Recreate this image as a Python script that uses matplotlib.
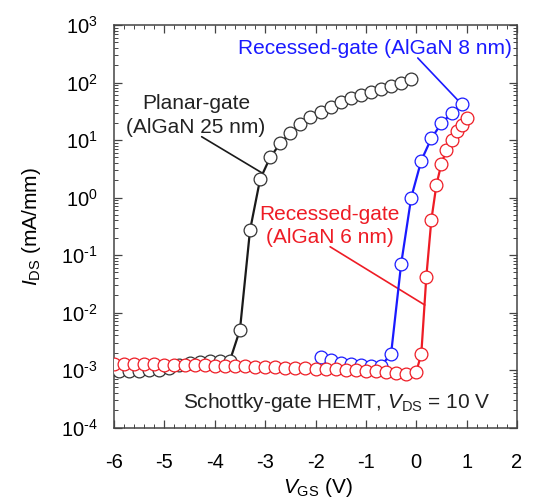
import matplotlib
matplotlib.use('Agg')
import matplotlib.pyplot as plt
from matplotlib.ticker import LogLocator, MultipleLocator, FuncFormatter
import numpy as np

plt.rcParams['font.family'] = ['Liberation Sans', 'DejaVu Sans']
plt.rcParams['mathtext.fontset'] = 'custom'
plt.rcParams['mathtext.rm'] = 'Liberation Sans'
plt.rcParams['mathtext.it'] = 'Liberation Sans:italic'
plt.rcParams['axes.unicode_minus'] = False

# Datos
# Planar-gate (AlGaN 25 nm)
planar_vgs = [-5.9, -5.7, -5.5, -5.3, -5.1, -4.9, -4.7, -4.5, -4.3, -4.1, -3.9, -3.7,
              -3.5, -3.3, -3.1, -2.9, -2.7, -2.5, -2.3, -2.1, -1.9, -1.7, -1.5, -1.3,
              -1.1, -0.9, -0.7, -0.5, -0.3, -0.1]
planar_ids = [9.6e-4, 9.6e-4, 9.7e-4, 9.9e-4, 1.02e-3, 1.1e-3, 1.2e-3, 1.3e-3, 1.4e-3, 1.45e-3, 1.45e-3, 1.45e-3,
              5.0e-3, 0.27, 2.07, 5.0, 8.7, 13.4, 19, 24.8, 31, 38, 45, 53,
              61, 69, 77, 87, 99, 113]

# Recessed-gate (AlGaN 8 nm)
rec8_vgs = [-1.9, -1.7, -1.5, -1.3, -1.1, -0.9, -0.7, -0.5, -0.3, -0.1, 0.1, 0.3, 0.5, 0.7, 0.9]
rec8_ids = [1.7e-3, 1.5e-3, 1.35e-3, 1.27e-3, 1.22e-3, 1.19e-3, 1.18e-3, 1.9e-3,
            0.07, 1.0, 4.4, 10.7, 19.5, 29, 42]

# Recessed-gate (AlGaN 6 nm)
rec6_vgs = [-6.0, -5.8, -5.6, -5.4, -5.2, -5.0, -4.8, -4.6, -4.4, -4.2, -4.0, -3.8, -3.6,
            -3.4, -3.2, -3.0, -2.8, -2.6, -2.4, -2.2, -2.0, -1.8, -1.6, -1.4, -1.2,
            -1.0, -0.8, -0.6, -0.4, -0.2, 0.0,
            0.1, 0.2, 0.3, 0.4, 0.5, 0.6, 0.7, 0.8, 0.9, 1.0]
rec6_ids = [1.28e-3, 1.28e-3, 1.27e-3, 1.26e-3, 1.25e-3, 1.24e-3, 1.23e-3, 1.22e-3, 1.21e-3, 1.2e-3,
            1.19e-3, 1.18e-3, 1.17e-3, 1.16e-3, 1.15e-3, 1.14e-3, 1.12e-3, 1.1e-3, 1.09e-3, 1.08e-3,
            1.06e-3, 1.05e-3, 1.03e-3, 1.01e-3, 1.0e-3, 0.98e-3, 0.96e-3, 0.94e-3, 0.9e-3, 0.85e-3,
            0.93e-3,
            1.9e-3, 0.042, 0.41, 1.66, 3.9, 6.7, 10, 14.5, 18.2, 23.8]

BLACK = '#1a1a1a'
BLUE = '#1a1aff'
RED = '#ee1c25'


def etiqueta_log(valor, pos):
    exp = int(round(np.log10(valor)))
    if exp < 0:
        return '$10^{\\text{-}%d}$' % (-exp)
    return '$10^{%d}$' % exp


fig = plt.figure(figsize=(5.33, 5.01), dpi=100)
ax = fig.add_axes([0.2139, 0.1467, 0.7561, 0.8034])

estilo = dict(marker='o', markersize=9.2, markerfacecolor='white', markeredgewidth=0.9, linewidth=1.6)
ax.plot(planar_vgs, planar_ids, color=BLACK, markeredgecolor='#333333', zorder=3, **estilo)
ax.plot(rec8_vgs, rec8_ids, color=BLUE, markeredgecolor=BLUE, zorder=4, **estilo)
ax.plot(rec6_vgs, rec6_ids, color=RED, markeredgecolor=RED, zorder=5, **estilo)

ax.set_yscale('log')
ax.set_xlim(-6, 2)
ax.set_ylim(1e-4, 1e3)

ax.xaxis.set_major_locator(MultipleLocator(1))
ax.xaxis.set_minor_locator(MultipleLocator(0.2))
ax.yaxis.set_major_locator(LogLocator(base=10, numticks=20))
ax.yaxis.set_minor_locator(LogLocator(base=10, subs=range(2, 10), numticks=20))
ax.yaxis.set_major_formatter(FuncFormatter(etiqueta_log))

ax.tick_params(which='both', direction='in', top=True, right=True, color='#444444')
ax.tick_params(which='major', length=6, width=0.9)
ax.tick_params(which='minor', length=3, width=0.7)
ax.tick_params(axis='x', which='major', labelsize=14.5, pad=18)
ax.tick_params(axis='y', which='major', labelsize=14.5, pad=12)
for s in ax.spines.values():
    s.set_linewidth(1.1)
    s.set_color('#444444')

ax.set_xlabel('$\\mathit{V}_{\\rm GS}$ (V)', fontsize=15)
ax.set_ylabel('$\\mathit{I}_{\\rm DS}$ (mA/mm)', fontsize=15)
ax.xaxis.set_label_coords(0.505, -0.12)
ax.yaxis.set_label_coords(-0.175, 0.5)

# Etiquetas y lineas guia
ax.text(-4.37, 26.7, 'Planar-gate\n(AlGaN 25 nm)', color='#222222', fontsize=15,
        ha='center', va='center', linespacing=1.3)
ax.annotate('', xy=(-3.06, 2.67), xytext=(-4.26, 11.4),
            arrowprops=dict(arrowstyle='-', color=BLACK, lw=1.2, shrinkA=0, shrinkB=0), zorder=2)

ax.text(-0.82, 398, 'Recessed-gate (AlGaN 8 nm)', color=BLUE, fontsize=15,
        ha='center', va='center')
ax.annotate('', xy=(0.9, 42), xytext=(0.03, 267),
            arrowprops=dict(arrowstyle='-', color=BLUE, lw=1.2, shrinkA=0, shrinkB=0), zorder=2)

ax.text(-1.72, 0.319, 'Recessed-gate\n(AlGaN 6 nm)', color=RED, fontsize=15,
        ha='center', va='center', linespacing=1.3)
ax.annotate('', xy=(0.17, 0.0135), xytext=(-1.71, 0.139),
            arrowprops=dict(arrowstyle='-', color=RED, lw=1.2, shrinkA=0, shrinkB=0), zorder=2)

ax.text(0.553, 0.061, 'Schottky-gate HEMT, $\\mathit{V}_{\\rm DS}$ = 10 V', transform=ax.transAxes,
        color='#222222', fontsize=15, ha='center', va='center')

fig.savefig('out.png', dpi=100)
